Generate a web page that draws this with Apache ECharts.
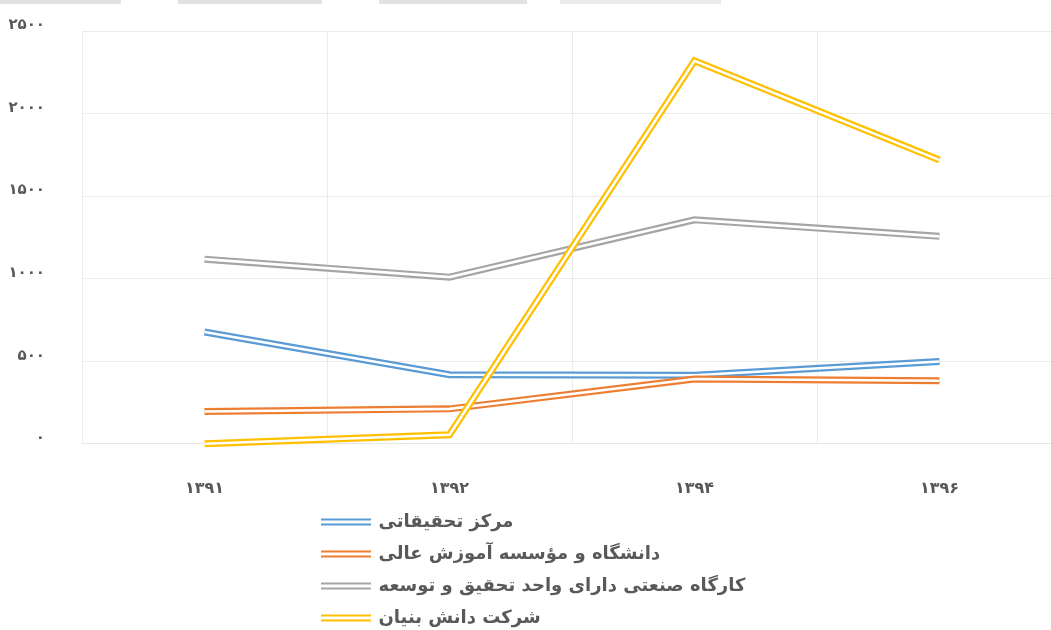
<!DOCTYPE html>
<html>
<head>
<meta charset="utf-8">
<script src="https://cdn.jsdelivr.net/npm/echarts@6/dist/echarts.min.js"></script>
<style>html,body{margin:0;padding:0;background:#fff;overflow:hidden;}#c{width:1072px;height:630px;}</style>
</head>
<body>
<div id="c"></div>
<script>
const categories = ['۱۳۹۱', '۱۳۹۲', '۱۳۹۴', '۱۳۹۶'];
const yTickLabels = ['۰', '۵۰۰', '۱۰۰۰', '۱۵۰۰', '۲۰۰۰', '۲۵۰۰'];
const seriesNames = ['مرکز تحقیقاتی', 'دانشگاه و مؤسسه آموزش عالی', 'کارگاه صنعتی دارای واحد تحقیق و توسعه', 'شرکت دانش بنیان'];
const researchCenter = [677, 418, 415, 498];
const university = [195, 211, 392, 381];
const industrialRD = [1118, 1009, 1356, 1256];
const knowledgeBased = [0, 54, 2319, 1718];
const seriesColors = ['#5B9BD5', '#ED7D31', '#A5A5A5', '#FFC000'];

const allData = [researchCenter, university, industrialRD, knowledgeBased];
const series = [];
allData.forEach(function (d, i) {
  series.push({
    name: seriesNames[i], type: 'line', data: d, symbol: 'none', silent: true,
    color: seriesColors[i],
    lineStyle: { color: seriesColors[i], width: 7, join: 'miter' }
  });
  series.push({
    name: 'inner' + i, type: 'line', data: d, symbol: 'none', silent: true,
    color: '#ffffff',
    lineStyle: { color: '#ffffff', width: 2.6, join: 'miter' }
  });
});

const chart = echarts.init(document.getElementById('c'), null, { renderer: 'canvas' });
chart.setOption({
  animation: false,
  backgroundColor: '#ffffff',
  textStyle: { fontFamily: 'DejaVu Sans' },
  grid: { left: 82, top: 31, width: 980, height: 412.7, containLabel: false },
  xAxis: {
    type: 'category', data: categories, boundaryGap: true,
    axisLine: { show: true, lineStyle: { color: '#e6e6e6', width: 1 } },
    axisTick: { show: false },
    splitLine: { show: true, lineStyle: { color: '#ebebeb', width: 1 } },
    axisLabel: { color: '#595959', fontSize: 16, fontWeight: 'bold', margin: 37, fontFamily: 'DejaVu Sans' }
  },
  yAxis: {
    type: 'value', min: 0, max: 2500, interval: 500,
    axisLine: { show: false }, axisTick: { show: false },
    splitLine: { show: true, lineStyle: { color: '#ebebeb', width: 1 } },
    axisLabel: {
      color: '#595959', fontSize: 15, fontWeight: 'bold', margin: 37, verticalAlign: 'bottom', lineHeight: 11,
      fontFamily: 'DejaVu Sans',
      formatter: function (v) { return yTickLabels[Math.round(v / 500)]; }
    }
  },
  legend: {
    data: seriesNames, orient: 'vertical', left: 321, top: 511, padding: 0,
    icon: 'path://M0,0H50V2H0Z M0,5H50V7H0Z',
    itemWidth: 51, itemHeight: 7, itemGap: 10,
    itemStyle: { borderWidth: 0 },
    textStyle: { color: '#595959', fontSize: 18, fontWeight: 'bold', fontFamily: 'DejaVu Sans', padding: [0, 0, 0, 2], lineHeight: 22 },
    selectedMode: false
  },
  graphic: [
    { type: 'rect', shape: { x: 0, y: 0, width: 121, height: 4 }, style: { fill: '#e2e2e2' }, silent: true },
    { type: 'rect', shape: { x: 178, y: 0, width: 144, height: 4 }, style: { fill: '#e2e2e2' }, silent: true },
    { type: 'rect', shape: { x: 379, y: 0, width: 148, height: 4 }, style: { fill: '#e2e2e2' }, silent: true },
    { type: 'rect', shape: { x: 560, y: 0, width: 161, height: 4 }, style: { fill: '#ebebeb' }, silent: true }
  ],
  series: series
});
</script>
</body>
</html>
